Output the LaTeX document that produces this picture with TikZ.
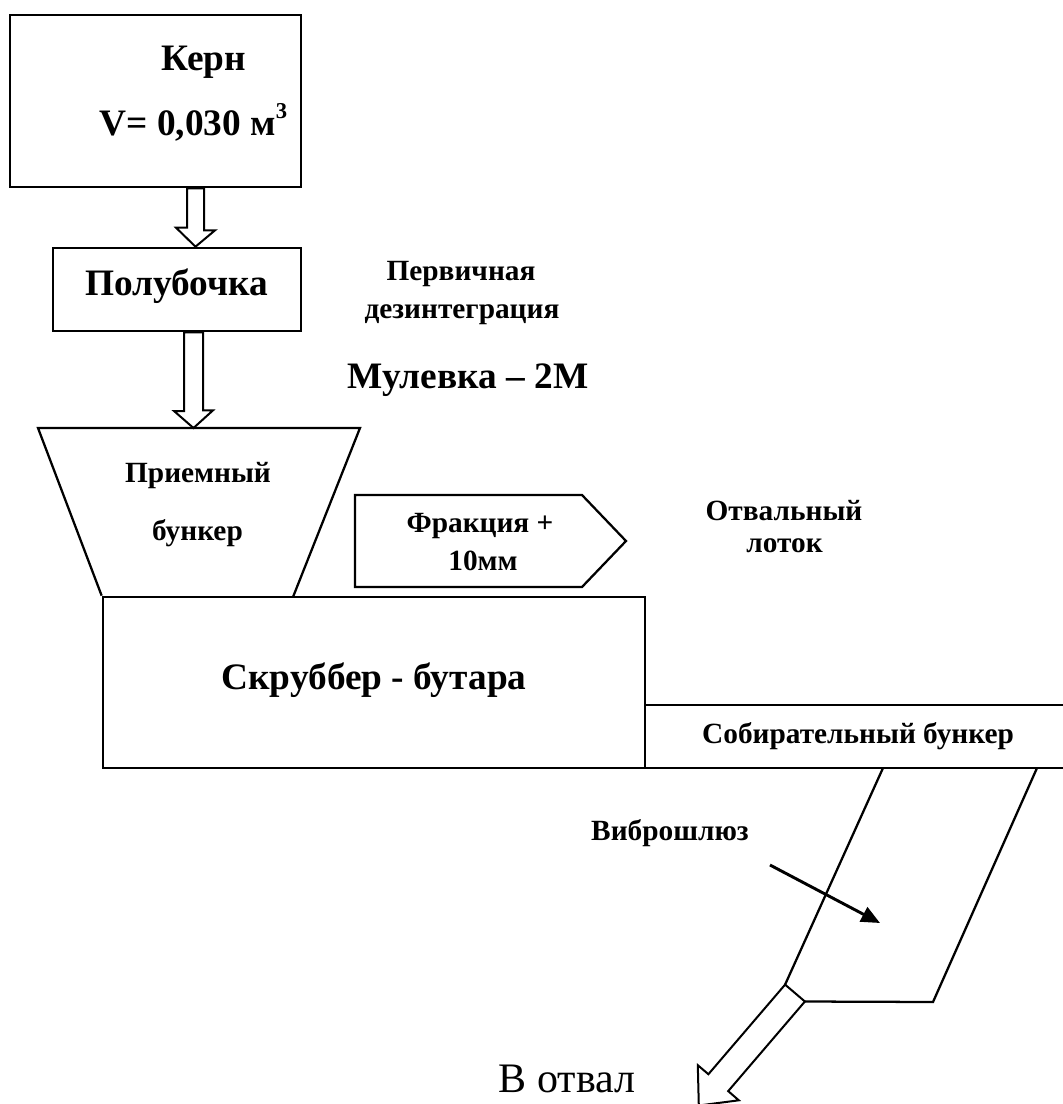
\documentclass[tikz,border=0pt]{standalone}
\usepackage{fontspec}
\setmainfont{Liberation Serif}
\usetikzlibrary{arrows.meta,calc}
\begin{document}
\begin{tikzpicture}[x=0.75pt,y=-0.75pt,line join=miter,
  box/.style={draw,line width=2pt,inner sep=0pt},
  outline/.style={draw,line width=1.7pt},
  hollow/.style={draw,line width=1.5pt,fill=white},
  lbl/.style={inner sep=0pt,anchor=base,font=\bfseries\fontsize{#1}{#1}\selectfont},
  lbl/.default=22]
\useasboundingbox (0,0) rectangle (1063,1104);
% boxes
\node[box,minimum width=291*0.75pt,minimum height=172*0.75pt] (kern) at (155.5,101) {};
\node[lbl=28] (kernt) at (204,70) {Керн};
\node[lbl=28] (kernv) at (193.5,135) {V= 0,030 м\raisebox{0.45em}{\fontsize{17}{17}\selectfont 3}};
\node[box,minimum width=248*0.75pt,minimum height=83*0.75pt] (polu) at (177,289.5) {};
\node[lbl=28] (polut) at (176.5,295) {Полубочка};
\node[box,minimum width=542*0.75pt,minimum height=171*0.75pt] (scr) at (374,682.5) {};
\node[lbl=28] (scrt) at (374,689) {Скруббер - бутара};
\node[box,minimum width=424*0.75pt,minimum height=63*0.75pt] (sob) at (857,736.5) {};
\node[lbl] (sobt) at (858,743) {Собирательный бункер};
% hopper
\coordinate (htl) at (38,428);
\coordinate (htr) at (360,428);
\draw[outline] (scr.north west) -- (htl) -- (htr) -- (293,597);
\node[lbl] (hop1) at (198,482) {Приемный};
\node[lbl] (hop2) at (197.5,540) {бункер};
% hollow arrows
\coordinate (a1) at ($(kern.south)+(40,0)$);
\draw[hollow] (a1) ++(-8.5,0) -- ++(17,0) -- ++(0,42) -- ++(11,0) -- (a1 |- polu.north) -- ++(-19.5,-19) -- ++(11,0) -- cycle;
\coordinate (a2) at ($(polu.south)+(16.5,0)$);
\draw[hollow] (a2) ++(-9.5,0) -- ++(19,0) -- ++(0,78) -- ++(10,0) -- (a2 |- htl) -- ++(-19.5,-17) -- ++(10,0) -- cycle;
% side labels
\node[lbl] (perv1) at (461,280) {Первичная};
\node[lbl] (perv2) at (462,318) {дезинтеграция};
\node[lbl=28] (mul) at (468,388) {Мулевка – 2М};
% fraction pentagon
\draw[outline] (355,495) coordinate (f1) -- (582,495) -- (626,541) coordinate (ftip) -- (582,587) -- (355,587) -- cycle;
\node[lbl] (fr1) at (480,532) {Фракция +};
\node[lbl] (fr2) at (483,570) {10мм};
\node[lbl] (otv1) at (784,520) {Отвальный};
\node[lbl] (otv2) at (784.5,552) {лоток};
% sluice
\coordinate (s1) at (883,768);
\coordinate (s2) at (1037,768);
\coordinate (B1) at (785.1,984.6);
\coordinate (B2) at (804.9,1001.5);
\draw[outline] (s1) -- (B1);
\draw[outline] (B2) -- (933,1002) -- (s2);
\draw[hollow] (B1) -- (B2) -- (728.2,1091.1) -- (738.8,1100.3) -- (698.8,1105.5) -- (697.8,1065.2) -- (708.4,1074.2) -- cycle;
\node[lbl] (vib) at (670,840) {Виброшлюз};
\coordinate (v1) at (770,865);
\coordinate (v2) at (880,923);
\draw[line width=2.2pt,-{Triangle[length=14pt,width=12pt]}] (v1) -- (v2);
\node[inner sep=0pt,anchor=base,font=\fontsize{31.5}{31.5}\selectfont] (otval) at (567,1092) {В отвал};
\end{tikzpicture}
\end{document}
